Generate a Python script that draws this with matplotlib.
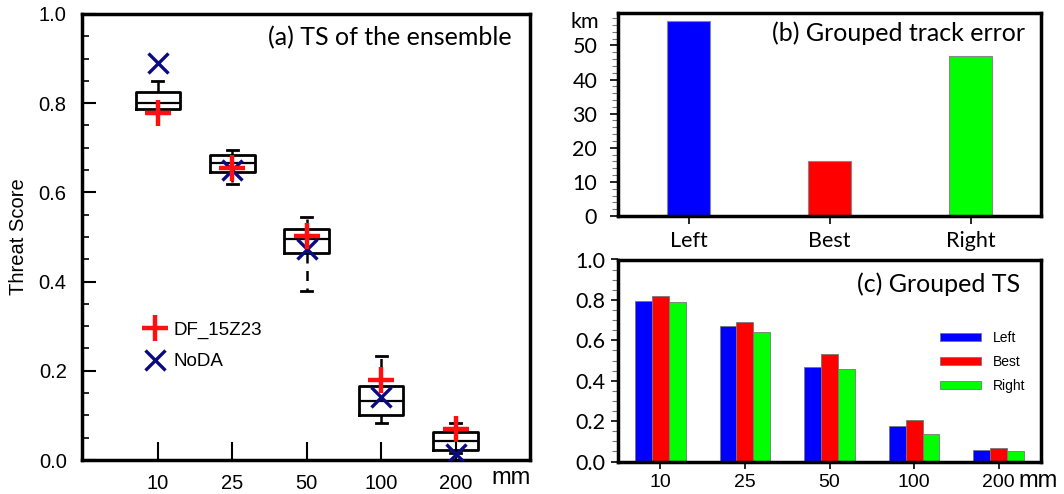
import matplotlib
matplotlib.use("Agg")
import matplotlib.pyplot as plt
from matplotlib.ticker import MultipleLocator

# ---------------- data ----------------
thresholds = ["10", "25", "50", "100", "200"]
# ensemble box statistics (panel a)
box_whislo = [0.780, 0.619, 0.380, 0.083, 0.015]
box_q1     = [0.787, 0.645, 0.465, 0.100, 0.022]
box_med    = [0.801, 0.665, 0.496, 0.132, 0.043]
box_q3     = [0.824, 0.683, 0.517, 0.167, 0.062]
box_whishi = [0.849, 0.695, 0.545, 0.234, 0.082]
ts_df      = [0.778, 0.655, 0.503, 0.180, 0.070]
ts_noda    = [0.891, 0.650, 0.472, 0.141, 0.013]

# panel b
groups = ["Left", "Best", "Right"]
track_error = [57.3, 16.0, 46.8]

# panel c
ts_left  = [0.795, 0.670, 0.470, 0.178, 0.058]
ts_best  = [0.820, 0.692, 0.530, 0.207, 0.065]
ts_right = [0.790, 0.642, 0.460, 0.138, 0.051]

group_colors = ["#0000ff", "#ff0000", "#00ff00"]

W, H = 1064, 494
fig = plt.figure(figsize=(W / 100, H / 100), dpi=100)

def fx(px):
    return px / W

def fy(py):
    return 1 - py / H

helv = "Liberation Sans"
cal = "Lato"

# ---------------- panel (a) ----------------
axa = fig.add_axes([fx(82), fy(460), fx(530) - fx(82), fy(14) - fy(460)])
pos = list(range(1, len(thresholds) + 1))
stats = []
for i in range(len(thresholds)):
    stats.append(dict(whislo=box_whislo[i], q1=box_q1[i], med=box_med[i],
                      q3=box_q3[i], whishi=box_whishi[i], fliers=[]))
axa.bxp(stats, positions=pos, widths=0.6, capwidths=0.15, showfliers=False,
        boxprops=dict(color="black", linewidth=2.0),
        whiskerprops=dict(color="black", linewidth=1.8, linestyle=(0, (4, 3))),
        capprops=dict(color="black", linewidth=2.0),
        medianprops=dict(color="black", linewidth=1.6))
axa.plot(pos, ts_df, linestyle="none", marker="+", markersize=19,
         markeredgewidth=3.2, color="#ff1010", label="DF_15Z23", zorder=5)
axa.plot(pos, ts_noda, linestyle="none", marker="x", markersize=15,
         markeredgewidth=2.4, color="#0a0a85", label="NoDA", zorder=4)
axa.set_xlim(-0.02, 6.0)
axa.set_ylim(0, 1.0)
axa.set_xticks(pos)
axa.set_xticklabels(thresholds)
axa.yaxis.set_major_locator(MultipleLocator(0.2))
axa.yaxis.set_minor_locator(MultipleLocator(0.05))
axa.set_yticklabels(["%.1f" % v for v in axa.get_yticks()])
axa.tick_params(axis="both", which="major", direction="in", length=10, width=1.5,
                labelsize=14.5)
axa.tick_params(axis="y", which="major", pad=11)
axa.tick_params(axis="x", which="major", length=13, pad=10)
axa.tick_params(axis="y", which="minor", direction="in", length=5, width=1.2)
axa.tick_params(top=False, right=False)
for lab in axa.get_xticklabels() + axa.get_yticklabels():
    lab.set_fontfamily(helv)
for sp in axa.spines.values():
    sp.set_linewidth(2.5)
axa.set_ylabel("Threat Score", fontsize=14.5, family=helv, labelpad=8)
axa.text(0.96, 0.948, "(a) TS of the ensemble", transform=axa.transAxes,
         ha="right", va="center", fontsize=18, family=cal)
axa.text(0.913, -0.04, "mm", transform=axa.transAxes, ha="left", va="center",
         fontsize=17, family=helv)
axa.legend(loc="upper left", bbox_to_anchor=(0.132, 0.31), frameon=False,
           borderpad=0, borderaxespad=0, handlelength=1.5, handletextpad=0.2,
           labelspacing=0.75, prop=dict(family=helv, size=13.5), numpoints=1)

# ---------------- panel (b) ----------------
axb = fig.add_axes([fx(618), fy(216), fx(1041) - fx(618), fy(13) - fy(216)])
xb = list(range(len(groups)))
axb.bar(xb, track_error, width=0.3, color=group_colors, edgecolor="#888888",
        linewidth=0.8)
axb.set_xlim(-0.5, 2.5)
axb.set_ylim(0, 59.5)
axb.set_xticks(xb)
axb.set_xticklabels(groups)
axb.yaxis.set_major_locator(MultipleLocator(10))
axb.yaxis.set_minor_locator(MultipleLocator(2))
axb.tick_params(axis="both", which="major", direction="out", length=6, width=1.2,
                labelsize=15.5)
axb.tick_params(axis="y", which="major", pad=9)
axb.tick_params(axis="x", which="major", pad=5)
axb.tick_params(axis="y", which="minor", direction="out", length=4, width=0.8,
                color="#777777")
for lab in axb.get_xticklabels() + axb.get_yticklabels():
    lab.set_fontfamily(cal)
for sp in axb.spines.values():
    sp.set_linewidth(2.5)
axb.text(-0.045, 0.955, "km", transform=axb.transAxes, ha="right", va="center",
         fontsize=15.5, family=cal)
axb.text(0.962, 0.899, "(b) Grouped track error", transform=axb.transAxes,
         ha="right", va="center", fontsize=18, family=cal)

# ---------------- panel (c) ----------------
axc = fig.add_axes([fx(618), fy(461.5), fx(1041) - fx(618), fy(259.5) - fy(461.5)])
xc = list(range(1, len(thresholds) + 1))
bw = 0.2
for off, vals, col, lab in [(-bw, ts_left, group_colors[0], groups[0]),
                            (0.0, ts_best, group_colors[1], groups[1]),
                            (bw, ts_right, group_colors[2], groups[2])]:
    axc.bar([x + off for x in xc], vals, width=bw, color=col,
            edgecolor="#777777", linewidth=0.6, label=lab)
axc.set_xlim(0.5, 5.5)
axc.set_ylim(0, 1.0)
axc.set_xticks(xc)
axc.set_xticklabels(thresholds)
axc.yaxis.set_major_locator(MultipleLocator(0.2))
axc.yaxis.set_minor_locator(MultipleLocator(0.05))
axc.set_yticklabels(["%.1f" % v for v in axc.get_yticks()])
axc.tick_params(axis="both", which="major", direction="out", length=5, width=1.2)
axc.tick_params(axis="y", which="major", labelsize=15.5, pad=4)
axc.tick_params(axis="x", which="major", labelsize=14, pad=4)
axc.tick_params(axis="y", which="minor", direction="out", length=4, width=0.8,
                color="#777777")
for lab in axc.get_yticklabels():
    lab.set_fontfamily(cal)
for lab in axc.get_xticklabels():
    lab.set_fontfamily(helv)
for sp in axc.spines.values():
    sp.set_linewidth(2.5)
axc.text(0.950, 0.88, "(c) Grouped TS", transform=axc.transAxes,
         ha="right", va="center", fontsize=18, family=cal)
axc.text(0.946, -0.095, "mm", transform=axc.transAxes, ha="left", va="center",
         fontsize=17, family=helv)
axc.legend(loc="upper left", bbox_to_anchor=(0.761, 0.645), frameon=False,
           borderpad=0, borderaxespad=0, handlelength=2.95, handleheight=0.55,
           handletextpad=0.85, labelspacing=0.7,
           prop=dict(family=helv, size=10))

fig.savefig("out.png", dpi=100)
